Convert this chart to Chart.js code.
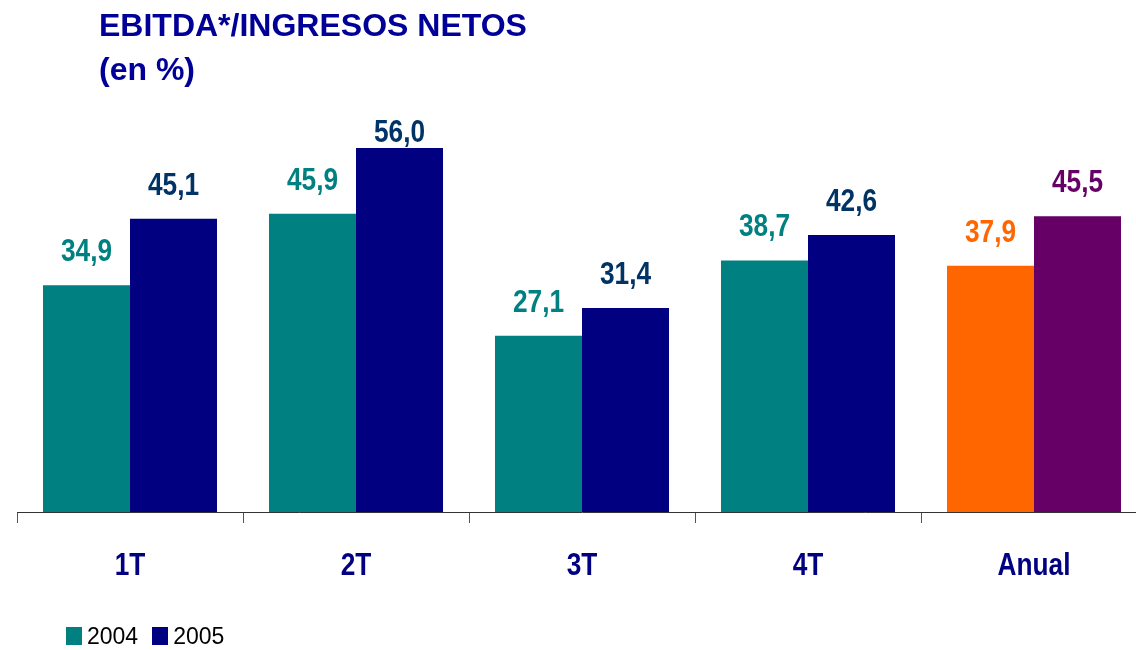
<!DOCTYPE html>
<html>
<head>
<meta charset="utf-8">
<script src="https://cdn.jsdelivr.net/npm/chart.js@4"></script>
<style>
  html, body { margin: 0; padding: 0; background: #fff; overflow: hidden; }
  #wrap { position: relative; width: 1136px; height: 650px; overflow: hidden; }
  #box { position: absolute; left: 0; top: 0; width: 1150px; height: 650px; }
  #titulo {
    position: absolute; left: 99px; top: 3px;
    font: bold 32px "Liberation Sans", Arial, sans-serif;
    line-height: 44px; color: #000099;
  }
  #leyenda {
    position: absolute; left: 66px; top: 626px; height: 20px;
    font: 23px "Liberation Sans", Arial, sans-serif; color: #000;
    display: flex; align-items: center;
  }
  #leyenda span.cuadro { display: inline-block; width: 16px; height: 18px; margin-right: 5px; }
  #leyenda span.txt { margin-right: 14px; }
</style>
</head>
<body>
<div id="wrap">
  <div id="box"><canvas id="grafico" width="1150" height="650"></canvas></div>
  <div id="titulo">EBITDA*/INGRESOS NETOS<br>(en %)</div>
  <div id="leyenda"></div>
</div>
<script>
// datos
const categorias = ['1T', '2T', '3T', '4T', 'Anual'];
const anios = ['2004', '2005'];
const valores2004 = [34.9, 45.9, 27.1, 38.7, 37.9];
const valores2005 = [45.1, 56.0, 31.4, 42.6, 45.5];

// colores
const colorBarras2004 = ['#008080', '#008080', '#008080', '#008080', '#FF6600'];
const colorBarras2005 = ['#000080', '#000080', '#000080', '#000080', '#660066'];
const colorEtiq2004 = ['#008080', '#008080', '#008080', '#008080', '#FF6600'];
const colorEtiq2005 = ['#003366', '#003366', '#003366', '#003366', '#660066'];
const fuente = '"Liberation Sans", Arial, sans-serif';
const estrecho = 0.82; // no hay Arial Narrow, se comprime a mano

// leyenda a mano
const leyenda = document.getElementById('leyenda');
[[anios[0], colorBarras2004[0]], [anios[1], colorBarras2005[0]]].forEach(function(it) {
  leyenda.innerHTML += '<span class="cuadro" style="background:' + it[1] + '"></span><span class="txt">' + it[0] + '</span>';
});

// texto comprimido horizontalmente
function textoEstrecho(ctx, txt, x, y) {
  ctx.save();
  ctx.translate(x, y);
  ctx.scale(estrecho, 1);
  ctx.fillText(txt, 0, 0);
  ctx.restore();
}

// etiquetas de valor encima de cada barra + categorias del eje
const etiquetas = {
  id: 'etiquetas',
  afterDraw: (chart) => {
    const { ctx, chartArea } = chart;
    const colores = [colorEtiq2004, colorEtiq2005];
    ctx.save();
    ctx.font = 'bold 32px ' + fuente;
    ctx.textAlign = 'center';
    ctx.textBaseline = 'alphabetic';
    chart.data.datasets.forEach((ds, i) => {
      chart.getDatasetMeta(i).data.forEach((bar, j) => {
        ctx.fillStyle = colores[i][j];
        // si no cabe arriba, se baja hasta el borde del area
        let y = Math.max(bar.y - 24, chartArea.top + 20);
        textoEstrecho(ctx, ds.data[j].toFixed(1).replace('.', ','), bar.x, y);
      });
    });
    // categorias
    const xs = chart.scales.x;
    const op = xs.options;
    const yLab = xs.top + op.grid.tickLength + op.ticks.padding + 32 * 1.2 / 2;
    ctx.fillStyle = '#000080';
    ctx.textBaseline = 'middle';
    xs.getLabels().forEach((lab, i) => {
      textoEstrecho(ctx, lab, xs.getPixelForTick(i), yLab);
    });
    ctx.restore();
  }
};

let ctx = document.getElementById('grafico').getContext('2d');
let myChart = new Chart(ctx, {
  type: 'bar',
  data: {
    labels: categorias,
    datasets: [
      { label: anios[0], data: valores2004, backgroundColor: colorBarras2004, borderWidth: 0 },
      { label: anios[1], data: valores2005, backgroundColor: colorBarras2005, borderWidth: 0 }
    ]
  },
  options: {
    responsive: false,
    animation: false,
    layout: { padding: { left: 17, right: 3, top: 122, bottom: 40.6 } },
    plugins: { legend: { display: false }, tooltip: { enabled: false } },
    datasets: { bar: { categoryPercentage: 0.77, barPercentage: 1 } },
    scales: {
      x: {
        grid: { offset: true, drawOnChartArea: false, drawTicks: true, tickLength: 11, color: '#555', lineWidth: 1 },
        border: { display: true, color: '#333', width: 1 },
        // etiquetas invisibles: reservan el espacio, se dibujan comprimidas en el plugin
        ticks: { color: 'rgba(0,0,0,0)', padding: 24, font: { family: fuente, size: 32, weight: 'bold', lineHeight: 1.2 } }
      },
      y: { display: false, min: 0, max: 60 }
    }
  },
  plugins: [etiquetas]
});
</script>
</body>
</html>
